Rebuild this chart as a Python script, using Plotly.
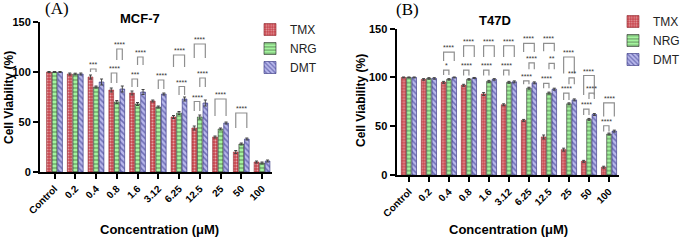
import plotly.graph_objects as go

# ---------------- data ----------------
categories = ["Control", "0.2", "0.4", "0.8", "1.6", "3.12", "6.25", "12.5", "25", "50", "100"]
series_names = ["TMX", "NRG", "DMT"]

mcf7_tmx = [100, 98, 95, 82, 79, 71, 55, 44, 35, 20, 10]
mcf7_nrg = [100, 98, 85, 70, 68, 65, 59, 55, 43, 28, 9]
mcf7_dmt = [100, 98, 90, 83, 80, 78, 73, 69, 49, 33, 11]
mcf7_tmx_err = [0.5, 1, 2, 2, 2, 1, 1.5, 2, 1, 1.5, 1]
mcf7_nrg_err = [0.5, 0.8, 1, 1.5, 1.5, 1, 1.5, 2, 1, 1, 1]
mcf7_dmt_err = [0.5, 1, 3, 3, 2.5, 1, 2, 3, 1, 1, 1]

t47d_tmx = [100, 98, 95, 92, 83, 72, 56, 39, 26, 14, 8]
t47d_nrg = [100, 99, 98, 98, 96, 95, 89, 84, 73, 57, 42]
t47d_dmt = [100, 99, 100, 99.5, 98, 95.5, 94.5, 88, 77, 62, 45]
t47d_tmx_err = [0.5, 0.8, 1, 1, 1.5, 1, 1, 2, 1.5, 1, 1]
t47d_nrg_err = [0.5, 0.8, 0.8, 0.8, 1, 1, 1, 1, 1, 1, 1]
t47d_dmt_err = [0.5, 0.8, 0.5, 0.5, 0.8, 1, 1, 1, 1, 1, 1]

# significance brackets: (category index, series a, series b, top, leg end, label)
mcf7_sig = [
    (2, 0, 1, 103, 100, "***"),
    (3, 0, 1, 99, 89, "****"),
    (3, 1, 2, 123, 112, "****"),
    (4, 0, 1, 93, 85, "***"),
    (4, 1, 2, 115, 107, "****"),
    (5, 1, 2, 92, 83, "****"),
    (6, 0, 2, 117, 105, "****"),
    (6, 1, 2, 85.5, 77, "****"),
    (7, 0, 2, 128, 114, "****"),
    (7, 1, 2, 94, 85, "****"),
    (7, 0, 1, 70.5, 61, "****"),
    (8, 0, 2, 73, 56, "****"),
    (9, 0, 2, 59, 44, "****"),
]
t47d_sig = [
    (2, 0, 2, 126, 117, "****"),
    (2, 0, 1, 107.5, 102.5, "*"),
    (3, 0, 2, 132.5, 121, "****"),
    (3, 0, 1, 107.5, 102, "****"),
    (4, 0, 2, 132.5, 121, "****"),
    (4, 0, 1, 107.5, 102, "****"),
    (5, 0, 2, 132.5, 121, "****"),
    (5, 0, 1, 107.5, 102, "****"),
    (6, 0, 2, 135, 126, "****"),
    (6, 1, 2, 115, 108.5, "****"),
    (6, 0, 1, 96.5, 93, "****"),
    (7, 0, 2, 135, 127, "****"),
    (7, 1, 2, 114.5, 108.5, "**"),
    (7, 0, 1, 94, 89, "****"),
    (8, 0, 2, 121, 104, "****"),
    (8, 1, 2, 99.5, 93, "***"),
    (8, 0, 1, 84, 77, "****"),
    (9, 0, 2, 102, 82, "****"),
    (9, 1, 2, 84, 78, "****"),
    (9, 0, 1, 67.5, 61.5, "****"),
    (10, 0, 2, 74, 60, "****"),
    (10, 0, 1, 50.5, 44.5, "****"),
]

# ---------------- styles ----------------
FONT = "Liberation Sans, Arial, sans-serif"
BARGAP = 0.2
styles = [
    dict(color="#c9474f", line="#8a1c24", pattern=dict(shape=".", fgcolor="#ffffff", size=3, solidity=0.35)),
    dict(color="#a4f59e", line="#202020", pattern=dict(shape="-", fgcolor="#111111", size=4, solidity=0.25)),
    dict(color="#b9b9ec", line="#2a2a78", pattern=dict(shape="\\", fgcolor="#262680", size=4, solidity=0.4)),
]

x_idx = list(range(len(categories)))
fig = go.Figure()

panels = [
    ("x", "y", "legend", [mcf7_tmx, mcf7_nrg, mcf7_dmt], [mcf7_tmx_err, mcf7_nrg_err, mcf7_dmt_err], mcf7_sig),
    ("x2", "y2", "legend2", [t47d_tmx, t47d_nrg, t47d_dmt], [t47d_tmx_err, t47d_nrg_err, t47d_dmt_err], t47d_sig),
]

for xa, ya, leg, vals, errs, sig in panels:
    for k, name in enumerate(series_names):
        st = styles[k]
        fig.add_trace(go.Bar(
            x=x_idx, y=vals[k], name=name, xaxis=xa, yaxis=ya, legend=leg,
            offsetgroup=str(k),
            marker=dict(color=st["color"], line=dict(color=st["line"], width=0.6), pattern=st["pattern"]),
            error_y=dict(type="data", array=errs[k], color="#444444", thickness=1, width=1.5),
        ))
    step = (1 - BARGAP) / 3
    for (ci, a, b, top, bot, lab) in sig:
        xa_pos = ci + (a - 1) * step
        xb_pos = ci + (b - 1) * step
        fig.add_shape(type="path", xref=xa, yref=ya,
                      path=f"M {xa_pos},{bot} L {xa_pos},{top} L {xb_pos},{top} L {xb_pos},{bot}",
                      line=dict(color="#8f8f8f", width=1.2))
        fig.add_annotation(x=(xa_pos + xb_pos) / 2, y=top, xref=xa, yref=ya, text=lab,
                           showarrow=False, yanchor="bottom", yshift=-1,
                           font=dict(family=FONT, size=7, color="#333333"))

ticktext = [f"<b>{c}</b>" for c in categories]

def xaxis_cfg(domain, rng, anchor):
    return dict(domain=domain, range=rng, anchor=anchor, tickvals=x_idx, ticktext=ticktext,
                tickangle=-45, showline=True, linecolor="black", linewidth=2,
                ticks="outside", ticklen=5, tickwidth=1.5, tickcolor="black",
                showgrid=False, zeroline=False, automargin=False,
                tickfont=dict(family=FONT, size=10, color="black"))

def yaxis_cfg(domain, anchor):
    return dict(domain=domain, range=[0, 150], anchor=anchor, tickvals=[0, 50, 100, 150],
                showline=True, linecolor="black", linewidth=2,
                ticks="outside", ticklen=5, tickwidth=1.5, tickcolor="black",
                showgrid=False, zeroline=False, automargin=False,
                tickfont=dict(family=FONT, size=11, color="black", weight="bold"))

W, H = 685, 240
fig.update_layout(
    width=W, height=H, margin=dict(l=0, r=0, t=0, b=0, autoexpand=False),
    paper_bgcolor="white", plot_bgcolor="white",
    barmode="group", bargap=BARGAP, bargroupgap=0.15,
    xaxis=xaxis_cfg([40 / W, 272 / W], [-0.7, 10.48], "y"),
    yaxis=yaxis_cfg([1 - 172 / H, 1 - 22 / H], "x"),
    xaxis2=xaxis_cfg([396.5 / W, 619 / W], [-0.62, 10.5], "y2"),
    yaxis2=yaxis_cfg([1 - 175 / H, 1 - 28.7 / H], "x2"),
    legend=dict(x=250 / W, y=1 - 15 / H, xanchor="left", yanchor="top",
                font=dict(family=FONT, size=12, color="#222222"), tracegroupgap=0,
                bgcolor="rgba(0,0,0,0)"),
    legend2=dict(x=613 / W, y=1 - 7 / H, xanchor="left", yanchor="top",
                 font=dict(family=FONT, size=12, color="#222222"), tracegroupgap=0,
                 bgcolor="rgba(0,0,0,0)"),
)

annos = [
    dict(x=57, y=9, text="(A)", font=dict(family="Liberation Serif, Times New Roman, serif", size=17, color="black")),
    dict(x=407, y=10, text="(B)", font=dict(family="Liberation Serif, Times New Roman, serif", size=17, color="black")),
    dict(x=140, y=19, text="<b>MCF-7</b>", font=dict(family=FONT, size=13, color="black")),
    dict(x=495, y=20, text="<b>T47D</b>", font=dict(family=FONT, size=13, color="black")),
    dict(x=159, y=229, text="<b>Concentration (μM)</b>", font=dict(family=FONT, size=13, color="black")),
    dict(x=508, y=229, text="<b>Concentration (μM)</b>", font=dict(family=FONT, size=13, color="black")),
    dict(x=9, y=98, text="<b>Cell Viability (%)</b>", textangle=-90, font=dict(family=FONT, size=12, color="black")),
    dict(x=361, y=100, text="<b>Cell Viability (%)</b>", textangle=-90, font=dict(family=FONT, size=12, color="black")),
]
for a in annos:
    fig.add_annotation(x=a["x"] / W, y=1 - a["y"] / H, xref="paper", yref="paper",
                       text=a["text"], showarrow=False, xanchor="center", yanchor="middle",
                       textangle=a.get("textangle", 0), font=a["font"])

fig.write_html("out.html", config={"displayModeBar": False},
               post_script="document.body.style.margin='0px';")
